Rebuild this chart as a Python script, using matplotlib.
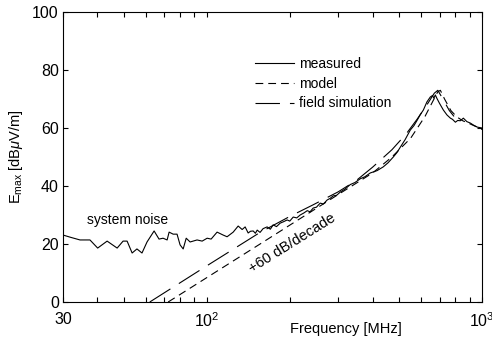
import matplotlib

matplotlib.use("Agg")

import matplotlib.pyplot as plt
from matplotlib.ticker import FixedLocator, NullFormatter


plt.rcParams["font.family"] = ["Liberation Sans", "DejaVu Sans"]
plt.rcParams["mathtext.fontset"] = "custom"
plt.rcParams["mathtext.rm"] = "Liberation Sans"
plt.rcParams["mathtext.it"] = "Liberation Sans:italic"

# measured field strength [MHz], [dBuV/m]
measured_freq = [
    30, 32.0, 34.6, 37.6, 40.1, 43.4, 47.2, 49.6, 51.3, 53.5, 55.7, 58.1,
    60.6, 64.3, 67.0, 69.3, 71.7, 72.9, 75.4, 77.9, 79.9, 82.0, 84.1, 86.9,
    92.1, 96.1, 100.2, 103.6, 108.9, 114.5, 118.4, 124.6, 129.9, 134.3,
    137.7, 141.2, 144.0, 147.3, 150.0, 152.3, 156.0, 160.0, 165.5, 170.0,
    174.0, 179.0, 184.6, 190.0, 195.7, 200.0, 205.9, 212.0, 218.2, 225.0,
    231.5, 237.0, 243.3, 250.0, 258.0, 265.0, 273.6, 280.0, 287.7, 296.0,
    305.1, 318.0, 331.8, 345.0, 360.7, 375.0, 392.2, 415.0, 437.2, 455.0,
    475.5, 490.0, 504.3, 525.0, 548.2, 565.0, 581.5, 595.0, 611.5, 630.0,
    648.1, 660.0, 668.0, 675.8, 685.0, 700.0, 722.8, 745.0, 766.6, 780.0,
    799.4, 815.0, 833.2, 854.4, 880.0, 905.9, 930.0, 960.9, 1000,
]
measured_level = [
    23.1, 22.3, 21.4, 21.4, 18.6, 21.0, 18.6, 21.0, 21.0, 16.9, 18.3, 16.9,
    20.7, 24.5, 21.7, 22.0, 21.4, 24.1, 23.4, 23.4, 19.7, 18.3, 22.0, 20.7,
    21.4, 21.0, 22.0, 21.7, 24.1, 23.1, 22.5, 24.1, 26.2, 25.0,
    25.9, 23.8, 24.4, 24.5, 23.7, 24.8, 24.0, 25.3, 25.9, 25.1,
    26.6, 26.0, 27.2, 27.7, 28.3, 27.9, 29.3, 29.0, 30.0, 30.7,
    31.5, 31.1, 32.4, 32.7, 34.1, 33.8, 35.2, 35.7, 36.6, 36.8,
    37.9, 39.0, 40.5, 41.2, 42.5, 43.2, 44.5, 45.3, 46.6, 48.0,
    50.0, 51.5, 53.4, 56.0, 59.3, 60.8, 62.8, 64.5, 66.2, 69.0,
    70.7, 71.2, 70.3, 71.4, 70.2, 68.5, 66.2, 64.5, 63.4, 63.0,
    62.0, 62.6, 62.5, 63.4, 62.2, 61.7, 61.0, 60.3, 60.0,
]

# circuit model
model_freq = [
    72.3, 156, 200, 305, 400, 470, 550, 620, 660, 690, 705, 730, 770, 810,
    850, 900, 1000,
]
model_level = [
    0, 20.0, 26.5, 37.5, 44.5, 50.0, 56.5, 64.0, 69.0, 72.5, 73.0, 70.0,
    66.0, 63.8, 62.5, 61.5, 59.5,
]

# field simulation
simulation_freq = [
    62, 100, 156, 200, 243, 300, 350, 400, 470, 530, 580, 630, 670, 690,
    720, 760, 790,
]
simulation_level = [
    0, 12.5, 24.0, 29.5, 33.5, 38.0, 42.0, 46.5, 52.5, 58.0, 63.0, 68.0,
    72.0, 73.0, 70.0, 66.0, 64.0,
]


def main() -> None:
    figure = plt.figure(figsize=(4.92, 3.45), dpi=100)
    axis = figure.add_axes([0.128, 0.1246, 0.852, 0.8406])

    axis.plot(
        measured_freq, measured_level,
        color="black", linewidth=0.8, label="measured",
    )
    axis.plot(
        model_freq, model_level,
        color="black", linewidth=0.8, linestyle=(0, (7, 4.5)),
        label="model",
    )
    axis.plot(
        simulation_freq, simulation_level,
        color="black", linewidth=0.8, linestyle=(0, (22, 9)),
        label="field simulation",
    )

    axis.set_xscale("log")
    axis.set_xlim(30, 1000)
    axis.set_ylim(0, 100)

    axis.xaxis.set_major_locator(FixedLocator([30, 100, 1000]))
    axis.set_xticklabels(["30", "$10^2$", "$10^3$"])
    minor = [40, 50, 60, 70, 80, 90, 200, 300, 400, 500, 600, 700, 800, 900]
    axis.xaxis.set_minor_locator(FixedLocator(minor))
    axis.xaxis.set_minor_formatter(NullFormatter())
    axis.set_yticks([0, 20, 40, 60, 80, 100])

    axis.tick_params(
        which="both", direction="in", top=True, right=True,
        length=3.5, width=0.8, labelsize=11.5,
    )
    axis.tick_params(axis="x", pad=7)
    axis.tick_params(axis="y", pad=3)
    for spine in axis.spines.values():
        spine.set_linewidth(0.8)

    # the x label sits beside the tick labels, as in the original
    axis.set_xlabel("Frequency [MHz]", fontsize=10.5)
    axis.xaxis.set_label_coords(0.675, -0.07)
    axis.set_ylabel(
        "E$_{\\mathrm{max}}$ [dB$\\mu$V/m]", fontsize=10.5, labelpad=5,
    )

    axis.text(36.6, 28.3, "system noise", fontsize=10, va="center")
    axis.text(
        204, 20.3, "+60 dB/decade", fontsize=10.5, rotation=32,
        ha="center", va="center", rotation_mode="anchor",
    )

    axis.legend(
        loc="upper left", bbox_to_anchor=(0.445, 0.865), frameon=False,
        fontsize=10, handlelength=2.8, handletextpad=0.35, labelspacing=0.42,
        borderaxespad=0,
    )

    figure.savefig("out.png", dpi=100)


if __name__ == "__main__":
    main()
